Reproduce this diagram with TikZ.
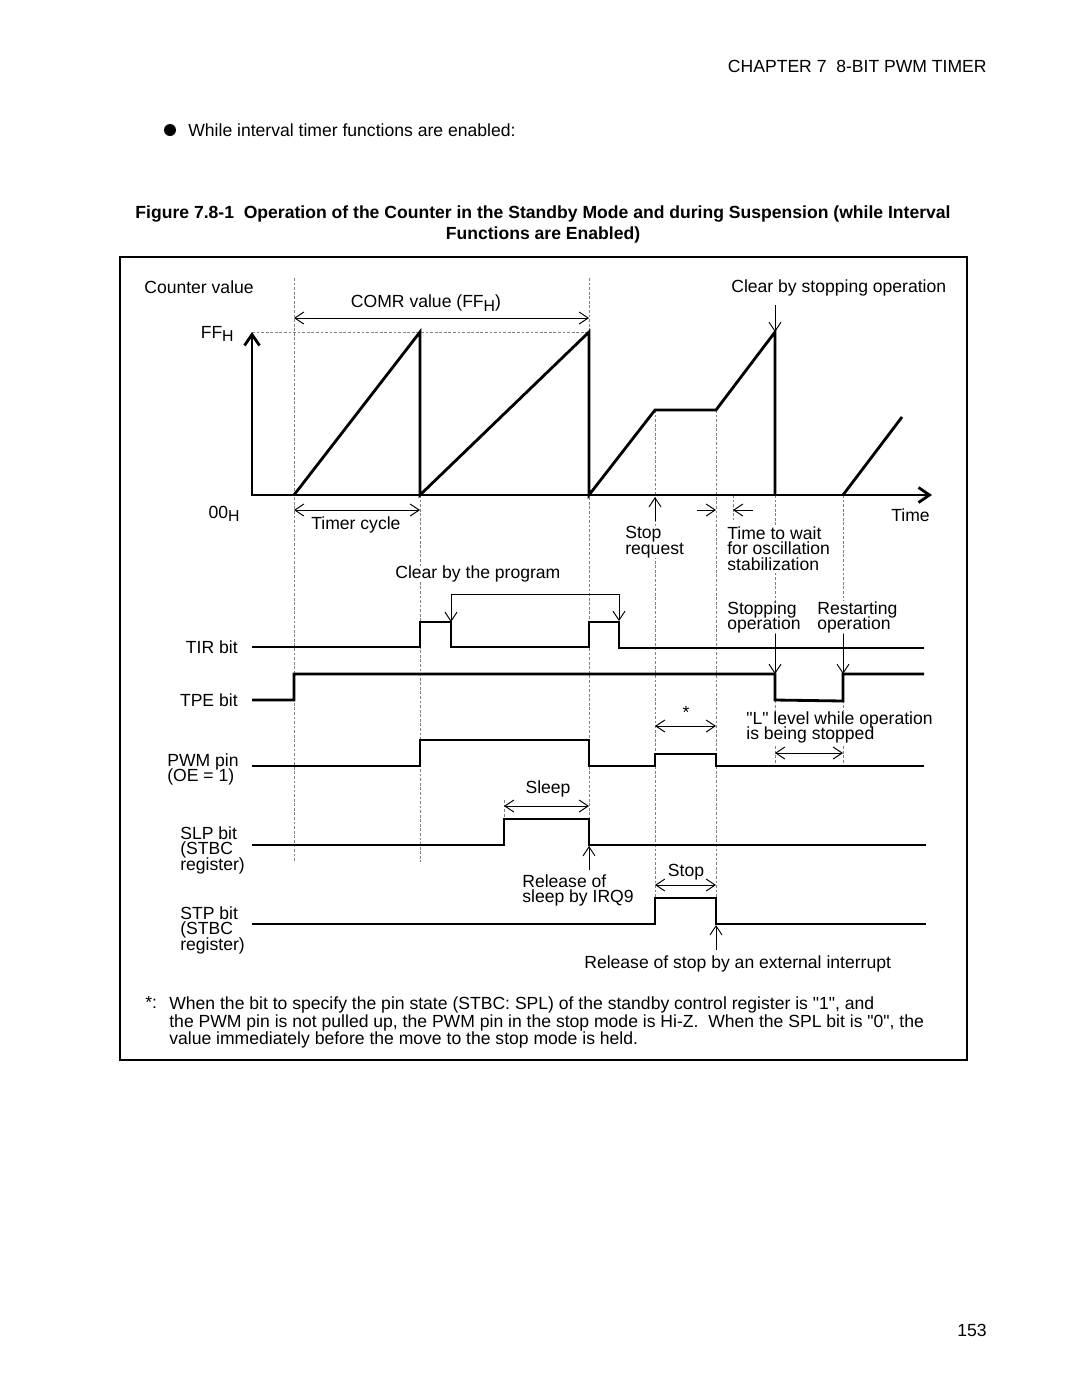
\documentclass[tikz,border=0pt]{standalone}
\usepackage{fontspec}
\setmainfont{Liberation Sans}
\usetikzlibrary{arrows.meta}

\newcommand{\lowH}{\raisebox{-0.4ex}{\fontsize{9}{9}\selectfont H}}
\newcommand{\labfont}{\fontsize{10}{9}\selectfont\lineskiplimit=-5pt\relax}
\newcommand{\tightfont}{\fontsize{10}{8.6}\selectfont\lineskiplimit=-5pt\relax}

\tikzset{
  wave/.style={line width=1.6pt, line join=miter},
  guide/.style={gray, line width=0.4pt, dash pattern=on 1.6pt off 1pt},
  arr/.style={line width=0.55pt, -{Straight Barb[length=1.8mm,width=2.4mm]}},
  dimarr/.style={line width=0.55pt, {Straight Barb[length=1.8mm,width=2.4mm]}-{Straight Barb[length=1.8mm,width=2.4mm]}},
  lbl/.style={anchor=west, fill=white},
  multi/.style={anchor=north west, align=left, fill=white}
}

\begin{document}
\begin{tikzpicture}[x=0.02cm, y=-0.02cm, every node/.style={font=\labfont, inner sep=0pt}]
\useasboundingbox (0,0) rectangle (1080,1397);

% page header and caption
\node[anchor=east] (hdr) at (987,66) {CHAPTER 7\ \ 8-BIT PWM TIMER};
\node[circle, fill, minimum size=0.24cm] (dot) at (170,130) {};
\node[lbl] (intro) at (188,130) {While interval timer functions are enabled:};
\node[align=center, font=\bfseries\fontsize{10}{12}\selectfont] (cap) at (543,224.5)
  {Figure 7.8-1\ \ Operation of the Counter in the Standby Mode and during Suspension (while Interval\\ Functions are Enabled)};
\node[anchor=east] (pg) at (987,1330) {153};

% frame
\draw[line width=0.9pt] (120,257) rectangle (967,1060);

% guide lines
\draw[guide] (252,332) -- (589,332);
\foreach \x/\ya/\yb in {294/278/862, 420/495/862, 589/278/862, 504/800/819,
                        655/410/900, 716/410/900, 733/495/520, 775/495/768, 843/495/768}
  \draw[guide] (\x,\ya) -- (\x,\yb);

% counter
\draw[wave, {Straight Barb[length=2.2mm,width=3mm]}-{Straight Barb[length=2.2mm,width=3mm]}] (252,332) -- (252,495) -- (932,495);
\draw[wave] (294,495) -- (420,332) -- (420,495) -- (589,332) -- (589,495) -- (655,410) -- (716,410) -- (775,332) -- (775,495);
\draw[wave] (843,495) -- (902,417);

\node[lbl] (cntv) at (144,287) {Counter value};
\node[anchor=base east] (ff) at (234,338) {FF\lowH};
\node[anchor=base east] (zero) at (240,518) {00\lowH};
\node[lbl] (time) at (891,515) {Time};

\coordinate (comrA) at (294,318); \coordinate (comrB) at (589,318);
\draw[dimarr] (comrA) -- (comrB);
\node (comr) at (426,303) {COMR value (FF\lowH)};

\node[lbl] (clrstop) at (731,288) {Clear by stopping operation};
\coordinate (clrtop) at (775,305); \coordinate (clrend) at (775,332);
\draw[arr] (clrtop) -- (clrend);

\coordinate (tcA) at (294,510); \coordinate (tcB) at (420,510);
\draw[dimarr] (tcA) -- (tcB);
\node[lbl] (tcyc) at (311,525) {Timer cycle};

\coordinate (sreqA) at (655,521); \coordinate (sreqB) at (655,497);
\draw[arr] (sreqA) -- (sreqB);
\node[multi] (sreq) at (625,526) {Stop\\request};

\coordinate (waitA) at (697,510); \coordinate (waitB) at (716,510);
\coordinate (waitC) at (753,510); \coordinate (waitD) at (733,510);
\draw[arr] (waitA) -- (waitB);
\draw[arr] (waitC) -- (waitD);
\node[multi] (wait) at (727,526) {Time to wait\\for oscillation\\stabilization};

% TIR bit
\node[anchor=east] (tirl) at (238,647) {TIR bit};
\draw[wave] (252,647) -- (420,647) -- (420,622) -- (451,622) -- (451,647) -- (589,647) -- (589,622) -- (619,622) -- (619,648) -- (924,648);
\node[lbl] (clrprog) at (395,574) {Clear by the program};
\coordinate (cpA) at (451,594); \coordinate (cpB) at (619,594);
\draw[line width=0.55pt] (cpA) -- (cpB);
\draw[arr] (cpA) -- (451,622);
\draw[arr] (cpB) -- (619,621);

% TPE bit
\node[anchor=east] (tpel) at (238,700) {TPE bit};
\draw[wave] (252,700) -- (294,700) -- (294,674) -- (775,674) -- (775,700) -- (843,701) -- (843,674) -- (924,674);
\node[multi, font=\tightfont] (stopop) at (727,601) {Stopping\\operation};
\node[multi, font=\tightfont] (restop) at (817,601) {Restarting\\operation};
\coordinate (soA) at (775,634); \coordinate (soB) at (775,674);
\coordinate (roA) at (843,634); \coordinate (roB) at (843,674);
\draw[arr] (soA) -- (soB);
\draw[arr] (roA) -- (roB);

% PWM pin
\node[multi] (pwml) at (167,753) {PWM pin\\(OE = 1)};
\draw[wave] (252,766) -- (420,766) -- (420,740) -- (589,740) -- (589,766) -- (655,766) -- (655,754) -- (716,754) -- (716,766) -- (924,766);
\coordinate (stA) at (655,726); \coordinate (stB) at (716,726);
\draw[dimarr] (stA) -- (stB);
\node (star) at (686,712) {*};
\node[multi] (llev) at (746,711) {\textquotedbl L\textquotedbl{} level while operation\\is being stopped};
\coordinate (llA) at (775,753); \coordinate (llB) at (843,753);
\draw[dimarr] (llA) -- (llB);

% SLP bit
\node[multi] (slpl) at (180,826) {SLP bit\\(STBC\\register)};
\draw[wave] (252,845) -- (504,845) -- (504,819) -- (589,819) -- (589,845) -- (926,845);
\coordinate (slA) at (504,806); \coordinate (slB) at (589,806);
\draw[dimarr] (slA) -- (slB);
\node (sleep) at (548,789) {Sleep};
\coordinate (rsA) at (589,870); \coordinate (rsB) at (589,846);
\draw[arr] (rsA) -- (rsB);
\node[multi] (relsl) at (522,874) {Release of\\sleep by IRQ9};

% STP bit
\node[multi] (stpl) at (180,906) {STP bit\\(STBC\\register)};
\draw[wave] (252,924) -- (655,924) -- (655,898) -- (716,898) -- (716,924) -- (926,924);
\coordinate (spA) at (655,885); \coordinate (spB) at (716,885);
\draw[dimarr] (spA) -- (spB);
\node (stop) at (686,872) {Stop};
\coordinate (reA) at (716,950); \coordinate (reB) at (716,925);
\draw[arr] (reA) -- (reB);
\node[lbl] (relst) at (584,964) {Release of stop by an external interrupt};

% footnote
\node[anchor=north west, font=\fontsize{10}{10.2}\selectfont] (fnmark) at (145,996) {*:};
\node[multi, font=\fontsize{10}{10.2}\selectfont] (fn) at (169,996)
  {When the bit to specify the pin state (STBC: SPL) of the standby control register is \textquotedbl 1\textquotedbl, and\\
   the PWM pin is not pulled up, the PWM pin in the stop mode is Hi-Z.\ \ When the SPL bit is \textquotedbl 0\textquotedbl, the\\
   value immediately before the move to the stop mode is held.};
\end{tikzpicture}
\end{document}
